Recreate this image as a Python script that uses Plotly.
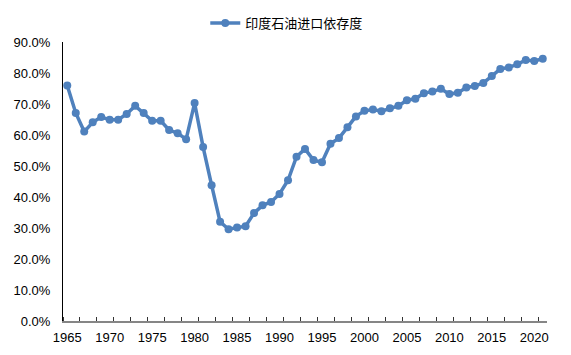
import plotly.graph_objects as go

years = list(range(1965, 2022))
dependence = [
    76.0, 67.1, 61.1, 64.1, 65.8, 64.9, 64.9, 66.8, 69.4, 67.1,
    64.6, 64.6, 61.6, 60.6, 58.6, 70.3, 56.1, 43.8, 32.0, 29.6,
    30.2, 30.6, 34.8, 37.3, 38.4, 41.0, 45.4, 53.0, 55.5, 51.9,
    51.2, 57.2, 59.0, 62.5, 66.0, 67.8, 68.2, 67.7, 68.6, 69.4,
    71.2, 71.7, 73.5, 74.0, 74.9, 73.2, 73.6, 75.3, 75.8, 76.8,
    79.0, 81.3, 81.8, 82.8, 84.2, 83.9, 84.6,
]
series_name = "印度石油进口依存度"
x_tick_vals = list(range(1965, 2021, 5))
y_tick_vals = [i / 10 for i in range(0, 10)]

color = "#4F81BD"
font_family = "Liberation Sans, Arial, Noto Sans CJK SC, sans-serif"

fig = go.Figure()
fig.add_trace(go.Scatter(
    x=years,
    y=[v / 100 for v in dependence],
    mode="lines+markers",
    name=series_name,
    line=dict(color=color, width=3.5),
    marker=dict(color=color, size=8),
    showlegend=True,
))

fig.update_layout(
    width=563, height=347,
    margin=dict(l=55, r=23.5, t=34, b=34, autoexpand=False),
    paper_bgcolor="white",
    plot_bgcolor="white",
    font=dict(family=font_family, size=13, color="#000000"),
    showlegend=True,
    legend=dict(
        orientation="h",
        xref="paper", yref="paper",
        x=(287 - 63) / 484.5, xanchor="center",
        y=(321 - 23) / 279, yanchor="middle",
        font=dict(size=13, family="Noto Sans CJK SC, sans-serif"),
        itemwidth=30,
    ),
)

fig.update_xaxes(
    range=[1964.5, 2021.5],
    tickmode="array",
    tickvals=x_tick_vals,
    ticktext=[str(v) for v in x_tick_vals],
    ticks="",
    showgrid=False,
    zeroline=False,
    showline=True,
    linecolor="#868686",
    linewidth=2,
    ticklabelstandoff=3,
    automargin=False,
    minor=dict(
        tickmode="linear", tick0=1964.5, dtick=2,
        ticks="inside", ticklen=4, tickcolor="#333333", tickwidth=1,
        showgrid=False,
    ),
)

fig.update_yaxes(
    range=[0, 0.9],
    tickmode="array",
    tickvals=y_tick_vals,
    tickformat=".1%",
    ticks="",
    showgrid=False,
    zeroline=False,
    showline=True,
    linecolor="#000000",
    linewidth=1,
    ticklabelstandoff=9,
    automargin=False,
)

fig.write_html("out.html")
